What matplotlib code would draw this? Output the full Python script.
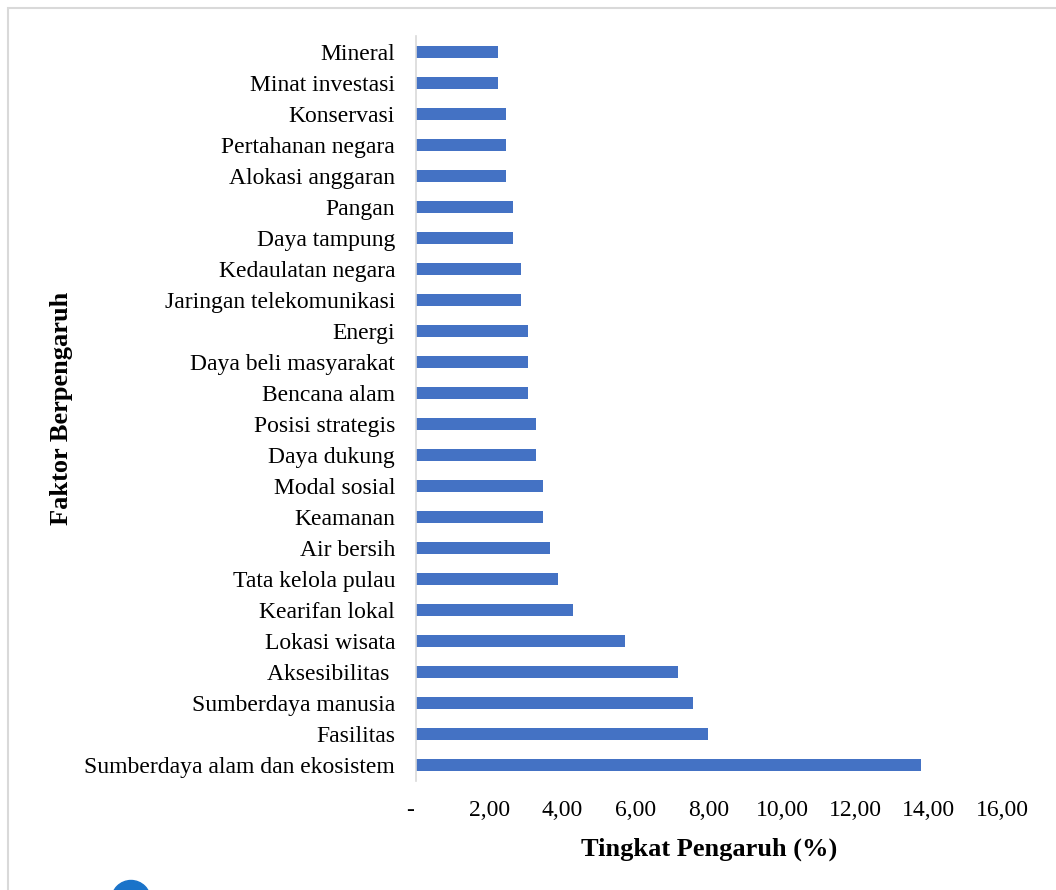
import matplotlib.pyplot as plt
import matplotlib.transforms as mtransforms
from matplotlib.patches import Rectangle, Circle

# Data (urutan dari atas ke bawah)
faktor = ['Mineral', 'Minat investasi', 'Konservasi', 'Pertahanan negara',
          'Alokasi anggaran', 'Pangan', 'Daya tampung', 'Kedaulatan negara',
          'Jaringan telekomunikasi', 'Energi', 'Daya beli masyarakat',
          'Bencana alam', 'Posisi strategis', 'Daya dukung', 'Modal sosial',
          'Keamanan', 'Air bersih', 'Tata kelola pulau', 'Kearifan lokal',
          'Lokasi wisata', 'Aksesibilitas ', 'Sumberdaya manusia', 'Fasilitas',
          'Sumberdaya alam dan ekosistem']
pengaruh = [2.24, 2.24, 2.45, 2.45, 2.45, 2.65, 2.65, 2.86, 2.86, 3.06, 3.06,
            3.06, 3.27, 3.27, 3.47, 3.47, 3.67, 3.88, 4.29, 5.71, 7.14, 7.55,
            7.96, 13.78]
xticks = [0, 2, 4, 6, 8, 10, 12, 14, 16]
xticklabels = ['-', '2,00', '4,00', '6,00', '8,00', '10,00', '12,00', '14,00', '16,00']

plt.rcParams['font.family'] = ['Liberation Serif', 'DejaVu Serif']

fig = plt.figure(figsize=(10.56, 8.9), dpi=100)
ax = fig.add_axes([0.394, 0.123, 0.555, 0.836])

ax.barh(range(len(faktor)), pengaruh, height=0.36, color='#4472C4')
ax.set_ylim(len(faktor) - 0.5, -0.5)
ax.set_xlim(0, 16)
ax.set_yticks(range(len(faktor)))
ax.set_yticklabels(faktor, fontsize=17)
ax.set_xticks(xticks)
ax.set_xticklabels(xticklabels, fontsize=17)
ax.tick_params(axis='y', length=0, pad=15)
ax.tick_params(axis='x', length=0, pad=14)

# tanda "-" sedikit ke kiri seperti di Excel
lbl0 = ax.get_xticklabels()[0]
lbl0.set_transform(lbl0.get_transform() + mtransforms.ScaledTranslation(-6 / 100, 0, fig.dpi_scale_trans))

for s in ['top', 'right', 'bottom']:
    ax.spines[s].set_visible(False)
ax.spines['left'].set_color('#d9d9d9')
ax.spines['left'].set_linewidth(1.2)

ax.set_xlabel('Tingkat Pengaruh (%)', fontsize=19, fontweight='bold', labelpad=12)
ax.set_ylabel('Faktor Berpengaruh', fontsize=19, fontweight='bold', labelpad=8)

# bingkai dan titik biru di pojok
fig.patches.append(Rectangle((8 / 1056, -0.1), 1.1, 1 - 8 / 890 + 0.1,
                             transform=fig.transFigure, fill=False,
                             edgecolor='#d9d9d9', linewidth=1.5))
fig.patches.append(Circle((131, -10), 19.5, transform=None, color='#1a73c9'))

fig.savefig('out.png', dpi=100)
